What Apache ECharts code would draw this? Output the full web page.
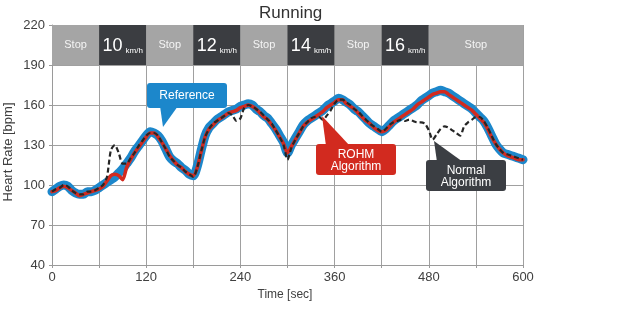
<!DOCTYPE html>
<html>
<head>
<meta charset="utf-8">
<script src="https://cdn.jsdelivr.net/npm/echarts@6/dist/echarts.min.js"></script>
<style>
html,body{margin:0;padding:0;background:#fff;}
#chart{width:630px;height:324px;}
</style>
</head>
<body>
<div id="chart"></div>
<script>
// ---- data ----
const timeSec = [
  0,5,10,15,20,25,30,35,40,45,50,55,
  60,65,70,75,80,85,90,95,100,105,110,115,
  120,125,130,135,140,145,150,155,160,165,170,175,
  180,185,190,195,200,205,210,215,220,225,230,235,
  240,245,250,255,260,265,270,275,280,285,290,295,
  300,305,310,315,320,325,330,335,340,345,350,355,
  360,365,370,375,380,385,390,395,400,405,410,415,
  420,425,430,435,440,445,450,455,460,465,470,475,
  480,485,490,495,500,505,510,515,520,525,530,535,
  540,545,550,555,560,565,570,575,580,585,590,595,
  600
];
const referenceHR = [
  95,97,99,100,99,96,94,93,93,95,95,96,
  98,100,102,104,106,109,112,116,120,125,129,133,
  137,140,139,137,133,127,121,118,116,113,111,108,
  107,114,126,137,143,146,149,151,153,155,156,157,
  159,160,161,160,157,155,152,150,146,142,137,132,
  124,130,135,140,145,148,150,152,154,156,159,161,
  163,165,164,162,160,157,155,152,149,146,144,142,
  140,142,145,148,150,152,154,156,158,160,163,165,
  167,169,170,171,170,169,167,165,163,161,159,157,
  154,151,148,143,137,131,127,124,123,122,121,120,
  119
];
const rohmHR = [
  95,96,98,99,98,96,94,92,93,94,95,96,
  97,99,103,107,108,107,104,113,119,124,128,132,
  136,139,139,136,132,127,122,118,115,113,110,108,
  107,113,125,136,142,145,148,150,152,154,155,156,
  158,159,160,159,157,154,151,149,145,141,136,131,
  124,129,134,139,144,147,149,151,153,155,158,160,
  162,164,164,161,159,157,154,151,148,146,143,141,
  140,141,144,147,149,151,153,155,157,160,162,164,
  166,168,169,170,170,168,166,164,162,160,158,156,
  153,150,147,142,136,131,127,124,122,121,120,119,
  119
];
const normalHR = [
  95,97,98,100,99,96,94,93,93,95,95,96,
  98,100,106,126,130,124,116,116,120,124,129,133,
  137,139,139,137,132,127,121,118,115,113,110,108,
  106,113,125,136,142,146,148,150,152,154,152,148,
  150,158,160,159,157,155,152,149,146,141,136,130,
  119,128,134,139,144,147,150,151,151,149,152,156,
  161,164,164,162,160,157,155,152,149,146,144,142,
  140,142,145,147,148,149,148,149,148,147,147,146,
  141,134,138,142,144,143,141,139,137,144,147,149,
  151,151,148,143,137,131,127,124,123,122,121,120,
  119
];
const bandStart = [0,60,120,180,240,300,360,420,480];
const bandEnd   = [60,120,180,240,300,360,420,480,600];
const bandLabel = ['Stop','10','Stop','12','Stop','14','Stop','16','Stop'];
const bandUnit = 'km/h';
const xTickLabels = [0,120,240,360,480,600];
const yTickLabels = [40,70,100,130,160,190,220];

// ---- chart ----
const FONT = 'Liberation Sans, Arial, sans-serif';
const chart = echarts.init(document.getElementById('chart'), null, {renderer:'canvas'});
const pairs = arr => timeSec.map((t,i)=>[t, arr[i]]);

const bandData = bandStart.map((s,i)=>{
  const isStop = bandLabel[i]==='Stop';
  return [{
    xAxis:s, yAxis:190,
    itemStyle:{color: isStop ? '#a5a5a5' : '#3b3d41'},
    label:{
      show:true, position:'inside',
      formatter: isStop ? '{stop|Stop}' : '{big|'+bandLabel[i]+'}{unit|'+bandUnit+'}'
    }
  },{xAxis:bandEnd[i], yAxis:220}];
});

const option = {
  animation:false,
  textStyle:{fontFamily:FONT},
  title:{
    text:'Running', left:254, top:0,
    textStyle:{fontSize:17, fontWeight:'normal', color:'#333', fontFamily:FONT}
  },
  grid:{left:52, right:107, top:25, bottom:59},
  xAxis:{
    type:'value', min:0, max:600, interval:60,
    name:'Time [sec]', nameLocation:'middle', nameGap:24,
    nameTextStyle:{fontSize:12, color:'#404040', padding:[0,0,0,-5]},
    axisLine:{show:true, lineStyle:{color:'#9a9a9a'}},
    axisTick:{show:true, length:3, lineStyle:{color:'#9a9a9a'}},
    axisLabel:{fontSize:13, color:'#404040', margin:6,
      formatter: v => xTickLabels.includes(v) ? String(v) : ''},
    splitLine:{show:true, lineStyle:{color:'#a0a0a0', width:1}}
  },
  yAxis:{
    type:'value', min:40, max:220, interval:30,
    axisLine:{show:true, lineStyle:{color:'#9a9a9a'}},
    axisTick:{show:true, length:3, lineStyle:{color:'#9a9a9a'}},
    axisLabel:{fontSize:13, color:'#404040', margin:7,
      formatter: v => yTickLabels.includes(v) ? String(v) : ''},
    splitLine:{show:true, lineStyle:{color:'#a0a0a0', width:1}}
  },
  series:[
    {
      name:'Reference', type:'line', data:pairs(referenceHR),
      showSymbol:false, smooth:0.25, z:3,
      lineStyle:{color:'#1c87cb', width:9, cap:'round', join:'round'},
      markArea:{
        silent:true,
        label:{
          rich:{
            stop:{fontSize:11, color:'#f4f4f4', fontFamily:FONT},
            big:{fontSize:18, color:'#ffffff', fontFamily:FONT, verticalAlign:'bottom', lineHeight:20},
            unit:{fontSize:8, color:'#ffffff', fontFamily:FONT, verticalAlign:'bottom', lineHeight:20, padding:[0,0,0,3]}
          }
        },
        data:bandData
      }
    },
    {
      name:'ROHM Algorithm', type:'line', data:pairs(rohmHR),
      showSymbol:false, smooth:0.25, z:4,
      lineStyle:{color:'#d22a1f', width:3.5, cap:'round', join:'round'}
    },
    {
      name:'Normal Algorithm', type:'line', data:pairs(normalHR),
      showSymbol:false, smooth:0.25, z:5,
      lineStyle:{color:'#262626', width:2.2, type:[5,3]}
    }
  ],
  graphic:[
    {type:'text', x:8, y:152, rotation:Math.PI/2, z:100,
      style:{text:'Heart Rate [bpm]', fill:'#404040', font:'13px '+FONT, align:'center', verticalAlign:'middle'}},
    // Reference callout
    {type:'polygon', z:100, shape:{points:[[160,106],[178,106],[163,127]]}, style:{fill:'#1c87cb'}},
    {type:'rect', z:100, shape:{x:147,y:83,width:80,height:25,r:3}, style:{fill:'#1c87cb'}},
    {type:'text', z:101, x:187, y:95.5, style:{text:'Reference', fill:'#fff', font:'12px '+FONT, align:'center', verticalAlign:'middle'}},
    // ROHM callout
    {type:'polygon', z:100, shape:{points:[[322,116],[326,146],[350,146]]}, style:{fill:'#d22a1f'}},
    {type:'rect', z:100, shape:{x:316,y:144,width:80,height:31,r:3}, style:{fill:'#d22a1f'}},
    {type:'text', z:101, x:356, y:160.5, style:{text:'ROHM\nAlgorithm', fill:'#fff', font:'12px '+FONT, align:'center', verticalAlign:'middle', lineHeight:12}},
    // Normal callout
    {type:'polygon', z:100, shape:{points:[[434,141],[437,162],[463,162]]}, style:{fill:'#3b3e43'}},
    {type:'rect', z:100, shape:{x:426,y:160,width:80,height:31,r:3}, style:{fill:'#3b3e43'}},
    {type:'text', z:101, x:466, y:176.5, style:{text:'Normal\nAlgorithm', fill:'#fff', font:'12px '+FONT, align:'center', verticalAlign:'middle', lineHeight:12}}
  ]
};
chart.setOption(option);
</script>
</body>
</html>
